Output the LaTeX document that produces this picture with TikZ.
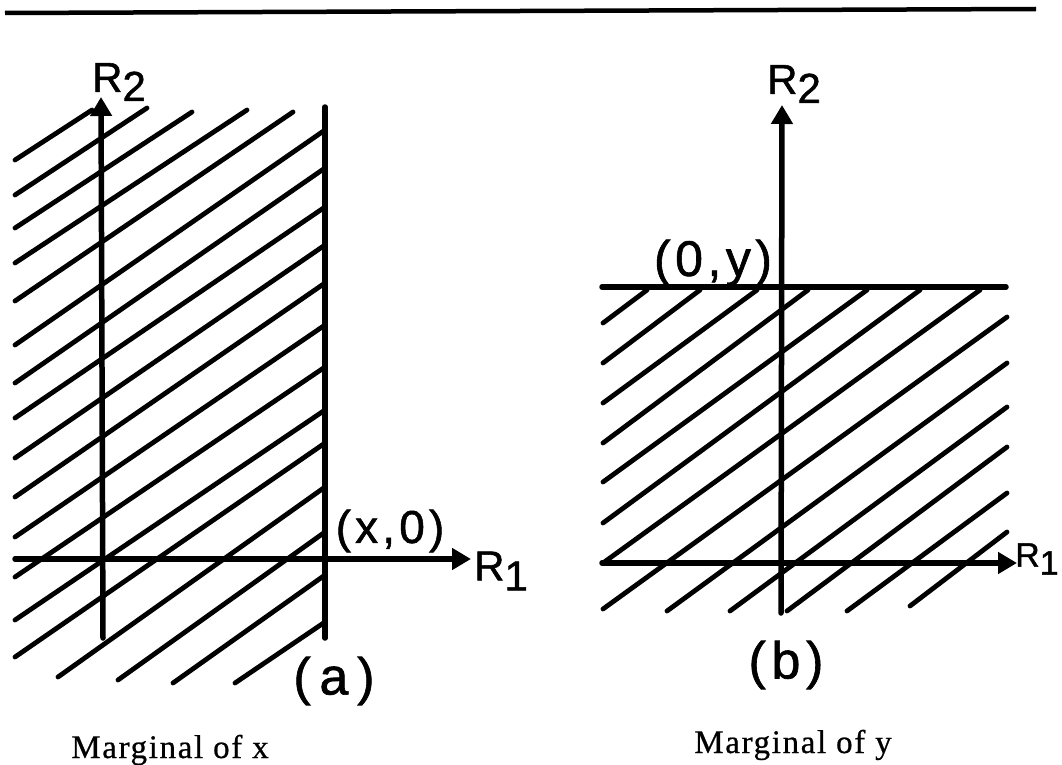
\documentclass[tikz,border=0pt]{standalone}
\usepackage{fontspec}
\setmainfont{Liberation Serif}
\newfontfamily\lett[FakeBold=1.2]{Liberation Sans}
\newfontfamily\capfont[FakeBold=0.6]{Liberation Serif}
\usetikzlibrary{arrows.meta}
\tikzset{
  axis/.style={line width=5.5pt, line cap=round, -{Triangle[length=19pt,width=21pt]}},
  edgeline/.style={line width=5.5pt, line cap=round},
  hatch/.style={line width=4.8pt, line cap=round},
  rlab/.style={font=\lett\fontsize{42}{44}\selectfont, inner sep=0pt},
  plab/.style args={#1/#2}{font=\lett\fontsize{#1}{#1}\selectfont\addfontfeature{LetterSpace=#2}, inner sep=0pt},
  caption/.style={font=\capfont\fontsize{33}{36}\selectfont\addfontfeature{LetterSpace=5}, inner sep=0pt, anchor=base},
}
\begin{document}
\begin{tikzpicture}[x=1pt,y=-1pt]
\useasboundingbox (0,0) rectangle (1062,765);
% top rule
\coordinate (ruleL) at (5,13);
\coordinate (ruleR) at (1036,9);
\draw[line width=4.5pt] (ruleL) -- (ruleR);

% ---------- panel (a) ----------
\foreach \xa/\ya/\xb/\yb in {15/160/92/110, 15/195/147/108, 15/228/192/112, 15/263/247/110,
  15/301/293/112, 15/345/325/130, 15/383/325/168, 15/418/325/207, 15/458/325/245,
  15/497/325/283, 15/537/325/325, 15/577/325/367, 15/620/325/410, 15/657/325/443,
  58/677/325/487, 118/680/325/532, 173/683/325/575, 235/683/325/622}
  \draw[hatch] (\xa,\ya) -- (\xb,\yb);
\coordinate (aW) at (15,559);
\coordinate (aE) at (471,559);
\coordinate (aS) at (103,638);
\coordinate (aN) at (101,97);
\coordinate (aVT) at (325,107);
\coordinate (aVB) at (325,638);
\draw[edgeline] (aVT) -- (aVB);
\draw[axis] (aW) -- (aE);
\draw[axis] (aS) -- (aN);
\node[rlab] (aR2) at (119,82) {R\raisebox{-9pt}{2}};
\node[rlab] (aR1) at (501,571) {R\raisebox{-10pt}{1}};
\node[plab=46/9] (ax0) at (390,531) {(x,0)};
\node[plab=52/17] (acap) at (334,681) {(a)};
\node[caption] (amarg) at (170,758) {Marginal of x};

% ---------- panel (b) ----------
\foreach \xa/\ya/\xb/\yb in {603/323/647/290, 603/363/700/290, 603/403/757/290, 603/443/808/290,
  603/482/867/290, 603/523/920/290, 603/563/980/290, 603/609/1007/317,
  667/611/1007/363, 730/611/1007/407, 787/611/1007/447, 847/611/1007/493, 910/606/1007/532}
  \draw[hatch] (\xa,\ya) -- (\xb,\yb);
\coordinate (bHL) at (602,287);
\coordinate (bHR) at (1006,287);
\coordinate (bW) at (602,563);
\coordinate (bE) at (1017,563);
\coordinate (bS) at (781,613);
\coordinate (bN) at (782,105);
\draw[edgeline] (bHL) -- (bHR);
\draw[axis] (bW) -- (bE);
\draw[axis] (bS) -- (bN);
\node[rlab] (bR2) at (794,84) {R\raisebox{-9pt}{2}};
\node[rlab, font=\lett\fontsize{34}{36}\selectfont, anchor=west] (bR1) at (1015,559) {R\raisebox{-8pt}{1}};
\node[plab=50/9] (b0y) at (713,263) {(0,y)};
\node[plab=52/11] (bcap) at (786,665) {(b)};
\node[caption] (bmarg) at (793,753) {Marginal of y};
\end{tikzpicture}
\end{document}
